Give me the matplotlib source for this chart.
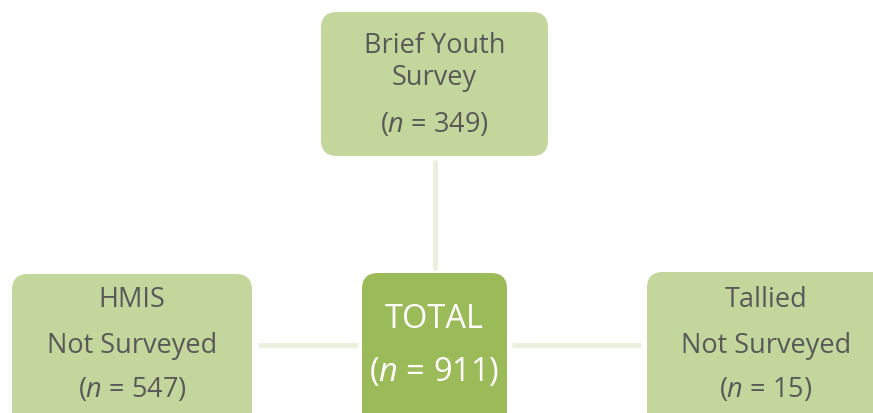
import matplotlib.pyplot as plt
from matplotlib.patches import FancyBboxPatch

plt.rcParams['font.family'] = ['Open Sans', 'DejaVu Sans']
plt.rcParams['mathtext.fontset'] = 'custom'
plt.rcParams['mathtext.rm'] = 'Open Sans'
plt.rcParams['mathtext.it'] = 'Open Sans:italic'

# data
labels = ['Brief Youth\nSurvey', 'HMIS\nNot Surveyed', 'TOTAL', 'Tallied\nNot Surveyed']
counts = [349, 547, 911, 15]

# box geometry in pixels: x0, y0(top), x1, y1(bottom)
boxes = [(321, 12, 548, 156), (12, 274, 252, 440), (362, 273, 507, 440), (647, 272, 900, 440)]
fills = ['#C3D69B', '#C3D69B', '#9BBB59', '#C3D69B']
text_col = ['#595959', '#595959', 'white', '#595959']

fig = plt.figure(figsize=(8.73, 4.13), dpi=100)
ax = fig.add_axes([0, 0, 1, 1])
ax.set_xlim(0, 873)
ax.set_ylim(413, 0)
ax.axis('off')

# connectors
line_col = '#EBF0DC'
ax.plot([434.5, 434.5], [160, 270], color=line_col, lw=3.5, solid_capstyle='butt')
ax.plot([258, 358], [345, 345], color=line_col, lw=3.5, solid_capstyle='butt')
ax.plot([512, 641], [345, 345], color=line_col, lw=3.5, solid_capstyle='butt')

for i, (x0, y0, x1, y1) in enumerate(boxes):
    r = 16
    ax.add_patch(FancyBboxPatch((x0 + r, y0 + r), x1 - x0 - 2 * r, y1 - y0 - 2 * r,
                                boxstyle=f'round,pad={r}', fc=fills[i], ec='none'))

# text
def put(x, y, s, col, size):
    ax.text(x, y, s, ha='center', va='center', color=col, fontsize=size)

fs = 19.5
put(434.5, 46, 'Brief Youth', text_col[0], fs)
put(434.5, 78, 'Survey', text_col[0], fs)
put(434.5, 125, r'($\mathit{n}$ = %d)' % counts[0], text_col[0], fs)

put(132, 300, 'HMIS', text_col[1], fs)
put(132, 346, 'Not Surveyed', text_col[1], fs)
put(132, 390, r'($\mathit{n}$ = %d)' % counts[1], text_col[1], fs)

put(434.5, 319, 'TOTAL', text_col[2], 23.5)
put(434.5, 372, r'($\mathit{n}$ = %d)' % counts[2], text_col[2], 23.5)

put(766, 300, 'Tallied', text_col[3], fs)
put(766, 346, 'Not Surveyed', text_col[3], fs)
put(766, 390, r'($\mathit{n}$ = %d)' % counts[3], text_col[3], fs)

fig.savefig('out.png', dpi=100)
